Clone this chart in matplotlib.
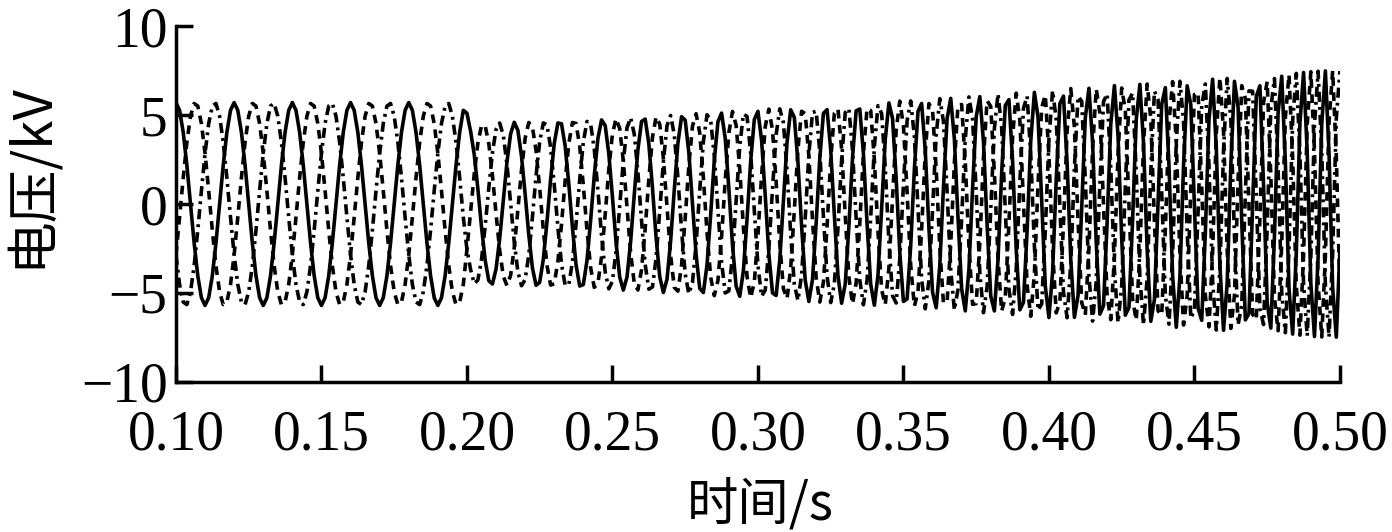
import numpy as np
import matplotlib
matplotlib.use("Agg")
import matplotlib.pyplot as plt

# ---- data ----
# envelope (kV) and frequency (Hz) at key times
key_t = [0.10, 0.1999, 0.2001, 0.25, 0.30, 0.35, 0.40, 0.45, 0.50]
key_amp = [5.7, 5.7, 4.5, 4.8, 5.3, 5.8, 6.4, 7.0, 7.6]
key_freq = [50, 50, 60, 70, 82, 95, 108, 122, 136]
phase_shift_deg = [0, -120, 120]          # phase A (solid), B (dashed), C (dash-dot)
sample_step = 0.00125                      # s
x_ticks = [0.10, 0.15, 0.20, 0.25, 0.30, 0.35, 0.40, 0.45, 0.50]
x_ticklabels = ["0.10", "0.15", "0.20", "0.25", "0.30", "0.35", "0.40", "0.45", "0.50"]
y_ticks = [-10, -5, 0, 5, 10]
y_ticklabels = ["\u221210", "\u22125", "0", "5", "10"]

t = np.arange(0.10, 0.5000001, sample_step)
amp = np.interp(t, key_t, key_amp)
freq = np.interp(t, key_t, key_freq)
theta = 2 * np.pi * np.concatenate([[0.0], np.cumsum(freq[:-1] * sample_step)])

fig = plt.figure(figsize=(13.92, 5.32), dpi=100)
ax = fig.add_axes([0.1264, 0.282, 0.8362, 0.669])

styles = [dict(linestyle="-"),
          dict(linestyle=(0, (2.4, 1.8))),
          dict(linestyle=(0, (2.8, 1.4, 0.8, 1.4)))]
for ps, st in zip(phase_shift_deg, styles):
    v = amp * np.cos(theta + np.deg2rad(ps))
    ax.plot(t, v, color="black", linewidth=2.6, **st)

ax.set_xlim(0.10, 0.50)
ax.set_ylim(-10, 10)
ax.set_xticks(x_ticks)
ax.set_xticklabels(x_ticklabels)
ax.set_yticks(y_ticks)
ax.set_yticklabels(y_ticklabels)

for s in ["top", "right"]:
    ax.spines[s].set_visible(False)
for s in ["left", "bottom"]:
    ax.spines[s].set_linewidth(2.5)
ax.tick_params(direction="in", length=12, width=2.5)
ax.tick_params(axis="x", pad=20)
ax.tick_params(axis="y", pad=6)

fam = ["Liberation Serif", "Noto Sans CJK SC"]
for lab in ax.get_xticklabels() + ax.get_yticklabels():
    lab.set_family(fam)
    lab.set_fontsize(40)

lfam = ["Noto Sans CJK SC", "Liberation Serif"]
ax.set_xlabel("时间/s", family=lfam, fontsize=37)
ax.set_ylabel("电压/kV", family=lfam, fontsize=38)
ax.xaxis.label.set_va("center")
ax.yaxis.label.set_va("center")
ax.xaxis.set_label_coords(0.502, -0.345)
ax.yaxis.set_label_coords(-0.125, 0.58)

fig.savefig("out.png", dpi=100)
